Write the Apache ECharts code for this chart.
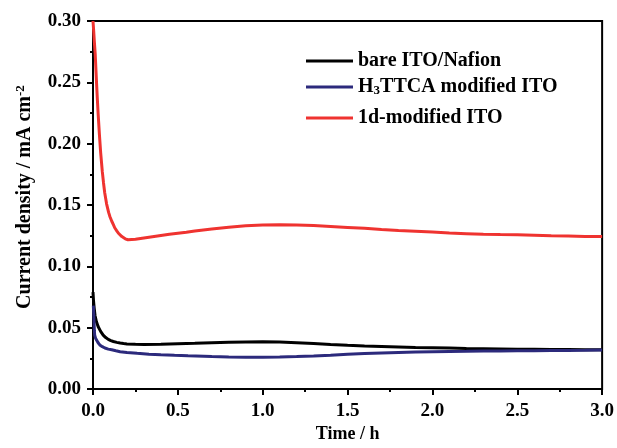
<!DOCTYPE html>
<html>
<head>
<meta charset="utf-8">
<script src="https://cdn.jsdelivr.net/npm/echarts@6/dist/echarts.min.js"></script>
<style>
html,body{margin:0;padding:0;background:#fff;}
#chart{width:617px;height:448px;}
</style>
</head>
<body>
<div id="chart"></div>
<script>
var seriesNames = ['bare ITO/Nafion', 'H3TTCA modified ITO', '1d-modified ITO'];
var xTicks = [0.0, 0.5, 1.0, 1.5, 2.0, 2.5, 3.0];
var yTicks = [0.00, 0.05, 0.10, 0.15, 0.20, 0.25, 0.30];

var blackT = [0, 0.003, 0.007, 0.012, 0.02, 0.03, 0.045, 0.06, 0.075, 0.09, 0.105, 0.12, 0.14, 0.16, 0.18, 0.2, 0.25, 0.3, 0.4, 0.5, 0.6, 0.7, 0.8, 0.9, 1.0, 1.1, 1.2, 1.3, 1.4, 1.5, 1.6, 1.7, 1.8, 1.9, 2.0, 2.1, 2.2, 2.3, 2.4, 2.5, 2.6, 2.7, 2.8, 2.9, 3.0];
var blackV = [0.079, 0.072, 0.066, 0.060, 0.055, 0.051, 0.047, 0.044, 0.042, 0.0405, 0.0395, 0.0388, 0.0381, 0.0375, 0.0371, 0.0368, 0.0365, 0.0364, 0.0366, 0.037, 0.0373, 0.0377, 0.0381, 0.0384, 0.0385, 0.0383, 0.0378, 0.0372, 0.0364, 0.0357, 0.0352, 0.0348, 0.0344, 0.034, 0.0337, 0.0334, 0.0331, 0.0329, 0.0327, 0.0325, 0.0324, 0.0323, 0.0322, 0.0321, 0.0321];

var blueT = [0.002, 0.004, 0.006, 0.008, 0.01, 0.015, 0.02, 0.03, 0.04, 0.055, 0.07, 0.09, 0.11, 0.135, 0.16, 0.2, 0.26, 0.33, 0.4, 0.48, 0.56, 0.7, 0.8, 0.9, 1.0, 1.1, 1.2, 1.3, 1.4, 1.5, 1.6, 1.7, 1.8, 1.9, 2.0, 2.1, 2.2, 2.3, 2.4, 2.5, 2.6, 2.7, 2.8, 2.9, 3.0];
var blueV = [0.068, 0.062, 0.055, 0.048, 0.044, 0.0415, 0.040, 0.0378, 0.036, 0.0346, 0.0335, 0.0326, 0.032, 0.0312, 0.0305, 0.0299, 0.0292, 0.0285, 0.028, 0.0275, 0.0271, 0.0265, 0.0262, 0.026, 0.026, 0.0262, 0.0265, 0.0269, 0.0276, 0.0284, 0.029, 0.0295, 0.0299, 0.0302, 0.0305, 0.0307, 0.0308, 0.031, 0.0311, 0.0312, 0.0313, 0.0314, 0.0315, 0.0316, 0.0318];

var redT = [0, 0.004, 0.008, 0.013, 0.02, 0.025, 0.03, 0.038, 0.045, 0.055, 0.062, 0.069, 0.08, 0.092, 0.1, 0.11, 0.12, 0.128, 0.14, 0.15, 0.16, 0.17, 0.18, 0.19, 0.2, 0.206, 0.25, 0.3, 0.35, 0.4, 0.45, 0.5, 0.55, 0.6, 0.7, 0.8, 0.9, 1.0, 1.1, 1.2, 1.3, 1.4, 1.5, 1.6, 1.7, 1.8, 1.9, 2.0, 2.1, 2.2, 2.3, 2.4, 2.5, 2.6, 2.7, 2.8, 2.9, 3.0];
var redV = [0.30, 0.292, 0.283, 0.273, 0.252, 0.238, 0.225, 0.207, 0.193, 0.177, 0.168, 0.160, 0.151, 0.144, 0.1405, 0.137, 0.134, 0.1315, 0.129, 0.127, 0.1255, 0.1243, 0.1233, 0.1225, 0.122, 0.1217, 0.1222, 0.1232, 0.1242, 0.1252, 0.1262, 0.127, 0.1278, 0.1288, 0.1305, 0.132, 0.1332, 0.1338, 0.134, 0.1338, 0.1333, 0.1326, 0.1318, 0.131, 0.13, 0.1292, 0.1286, 0.128, 0.1272, 0.1267, 0.1262, 0.1259, 0.1257, 0.1254, 0.125, 0.1247, 0.1244, 0.1244];

function pairs(t, v) { return t.map(function (x, i) { return [x, v[i]]; }); }

var FONT = '"Liberation Serif", "Times New Roman", serif';
var colors = ['#000000', '#2c2a7c', '#ef3330'];

function legendFor(i, top) {
  return {
    data: [seriesNames[i]],
    left: 306, top: top, padding: 0,
    icon: 'rect', itemWidth: 47, itemHeight: 3,
    textStyle: {
      fontFamily: FONT, fontWeight: 'bold', fontSize: 20, color: '#000', lineHeight: 20,
      rich: {
        n: {fontFamily: FONT, fontWeight: 'bold', fontSize: 20, color: '#000'},
        s: {fontFamily: FONT, fontWeight: 'bold', fontSize: 13, color: '#000', verticalAlign: 'bottom', padding: [13, 0, 0, 0]}
      }
    },
    formatter: function (name) {
      if (name === 'H3TTCA modified ITO') return '{n|H}{s|3}{n|TTCA modified ITO}';
      return name;
    }
  };
}

var chart = echarts.init(document.getElementById('chart'), null, {renderer: 'canvas'});
chart.setOption({
  animation: false,
  backgroundColor: '#fff',
  grid: {left: 93, right: 13, top: 21, bottom: 53, show: true, borderColor: '#000', borderWidth: 2, backgroundColor: 'transparent'},
  legend: [legendFor(0, 51), legendFor(1, 77), legendFor(2, 108)],
  xAxis: {
    type: 'value', min: xTicks[0], max: xTicks[xTicks.length - 1], interval: 0.5,
    name: 'Time / h', nameLocation: 'middle', nameGap: 33,
    nameTextStyle: {fontFamily: FONT, fontWeight: 'bold', fontSize: 18, color: '#000'},
    axisLine: {show: true, lineStyle: {color: '#000', width: 2}},
    axisTick: {show: true, inside: false, length: 6, lineStyle: {color: '#000', width: 2}},
    minorTick: {show: true, splitNumber: 2, length: 3, lineStyle: {color: '#000', width: 2}},
    splitLine: {show: false},
    axisLabel: {margin: 12, fontFamily: FONT, fontWeight: 'bold', fontSize: 19, color: '#000',
      formatter: function (v) { return v.toFixed(1); }}
  },
  yAxis: {
    type: 'value', min: yTicks[0], max: yTicks[yTicks.length - 1], interval: 0.05,
    name: '{a|Current density / mA cm}{s|-2}', nameLocation: 'middle', nameGap: 57, nameRotate: 90,
    nameTextStyle: {
      fontFamily: FONT, fontWeight: 'bold', fontSize: 20, color: '#000', padding: [0, 0, 0, 16],
      rich: {
        a: {fontFamily: FONT, fontWeight: 'bold', fontSize: 20, color: '#000'},
        s: {fontFamily: FONT, fontWeight: 'bold', fontSize: 13, color: '#000', verticalAlign: 'top', padding: [0, 0, 9, 0]}
      }
    },
    axisLine: {show: true, lineStyle: {color: '#000', width: 2}},
    axisTick: {show: true, inside: false, length: 6, lineStyle: {color: '#000', width: 2}},
    minorTick: {show: true, splitNumber: 2, length: 3, lineStyle: {color: '#000', width: 2}},
    splitLine: {show: false},
    axisLabel: {margin: 12, fontFamily: FONT, fontWeight: 'bold', fontSize: 19, color: '#000',
      formatter: function (v) { return v.toFixed(2); }}
  },
  series: [
    {name: seriesNames[0], type: 'line', data: pairs(blackT, blackV), showSymbol: false, smooth: false,
     color: colors[0], lineStyle: {width: 3, color: colors[0]}},
    {name: seriesNames[1], type: 'line', data: pairs(blueT, blueV), showSymbol: false, smooth: false,
     color: colors[1], lineStyle: {width: 3, color: colors[1]}},
    {name: seriesNames[2], type: 'line', data: pairs(redT, redV), showSymbol: false, smooth: false,
     color: colors[2], lineStyle: {width: 3, color: colors[2]}}
  ]
});
</script>
</body>
</html>
